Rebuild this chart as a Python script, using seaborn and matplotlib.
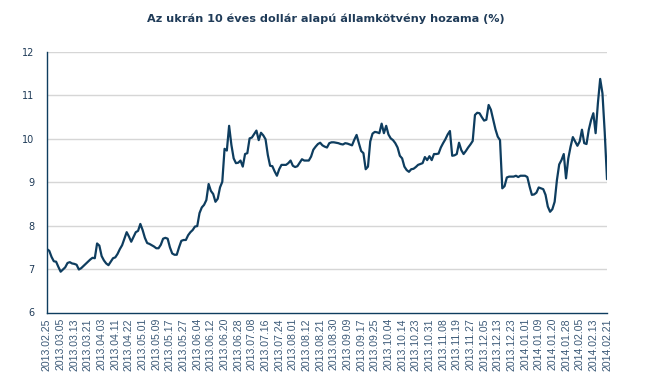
import matplotlib
matplotlib.use("Agg")
import matplotlib.pyplot as plt
import seaborn as sns
import pandas as pd
import numpy as np

title = "Az ukrán 10 éves dollár alapú államkötvény hozama (%)"

tick_labels = [
    "2013.02.25", "2013.03.05", "2013.03.13", "2013.03.21", "2013.04.03", "2013.04.11",
    "2013.04.22", "2013.05.01", "2013.05.09", "2013.05.17", "2013.05.27", "2013.06.04",
    "2013.06.12", "2013.06.20", "2013.06.28", "2013.07.08", "2013.07.16", "2013.07.24",
    "2013.08.01", "2013.08.12", "2013.08.21", "2013.08.30", "2013.09.09", "2013.09.17",
    "2013.09.25", "2013.10.04", "2013.10.14", "2013.10.23", "2013.10.31", "2013.11.08",
    "2013.11.19", "2013.11.27", "2013.12.05", "2013.12.13", "2013.12.23", "2014.01.01",
    "2014.01.09", "2014.01.20", "2014.01.28", "2014.02.05", "2014.02.13", "2014.02.21",
]

yields = [
    7.46, 7.42, 7.28, 7.18, 7.17, 7.05,
    6.94, 6.99, 7.04, 7.14, 7.16, 7.13,
    7.12, 7.10, 6.99, 7.02, 7.07, 7.12,
    7.17, 7.22, 7.26, 7.25, 7.59, 7.54,
    7.30, 7.20, 7.13, 7.09, 7.17, 7.25,
    7.27, 7.35, 7.46, 7.55, 7.70, 7.85,
    7.75, 7.63, 7.74, 7.85, 7.88, 8.04,
    7.90, 7.72, 7.60, 7.58, 7.55, 7.52,
    7.48, 7.48, 7.56, 7.70, 7.72, 7.70,
    7.50, 7.36, 7.33, 7.33, 7.50, 7.65,
    7.67, 7.67, 7.78, 7.85, 7.90, 7.98,
    7.99, 8.29, 8.42, 8.48, 8.59, 8.96,
    8.80, 8.73, 8.55, 8.62, 8.88, 9.01,
    9.77, 9.73, 10.30, 9.86, 9.55, 9.44,
    9.45, 9.50, 9.36, 9.65, 9.67, 10.01,
    10.03, 10.11, 10.19, 9.97, 10.14, 10.08,
    9.99, 9.63, 9.38, 9.37, 9.25, 9.15,
    9.30, 9.40, 9.40, 9.40, 9.44, 9.50,
    9.38, 9.35, 9.37, 9.45, 9.53, 9.50,
    9.50, 9.50, 9.59, 9.75, 9.82, 9.88,
    9.91, 9.85, 9.82, 9.80, 9.90, 9.92,
    9.92, 9.91, 9.90, 9.88, 9.87, 9.90,
    9.89, 9.87, 9.85, 9.98, 10.09, 9.90,
    9.72, 9.67, 9.30, 9.36, 9.94, 10.12,
    10.16, 10.15, 10.13, 10.35, 10.13, 10.30,
    10.10, 10.01, 9.97, 9.90, 9.80, 9.61,
    9.55, 9.36, 9.28, 9.24, 9.30, 9.31,
    9.35, 9.40, 9.42, 9.44, 9.58, 9.51,
    9.60, 9.51, 9.65, 9.65, 9.66, 9.80,
    9.90, 9.99, 10.10, 10.18, 9.61, 9.62,
    9.65, 9.91, 9.74, 9.65, 9.72, 9.80,
    9.87, 9.95, 10.55, 10.60, 10.59, 10.50,
    10.42, 10.44, 10.78, 10.67, 10.45, 10.22,
    10.05, 9.97, 8.86, 8.91, 9.11, 9.13,
    9.13, 9.13, 9.15, 9.12, 9.15, 9.15,
    9.15, 9.12, 8.90, 8.71, 8.72, 8.76,
    8.88, 8.86, 8.84, 8.71, 8.44, 8.32,
    8.38, 8.55, 9.05, 9.41, 9.51, 9.65,
    9.09, 9.55, 9.82, 10.04, 9.94, 9.84,
    9.94, 10.21, 9.90, 9.88, 10.21, 10.43,
    10.59, 10.13, 10.82, 11.38, 11.05, 10.15,
    9.07,
]

y_ticks = [6, 7, 8, 9, 10, 11, 12]

navy = "#0e3d5f"
text_col = "#1f3b58"

sns.set_theme(style="white")
plt.rcParams["font.family"] = ["DejaVu Sans"]

df = pd.DataFrame({"idx": np.arange(len(yields)), "value": yields})

fig = plt.figure(figsize=(6.45, 3.83), dpi=100)
ax = fig.add_axes([47 / 645, 1 - 312.5 / 383, (607 - 47) / 645, (312.5 - 52) / 383])

sns.lineplot(data=df, x="idx", y="value", ax=ax, color=navy, linewidth=1.6)

n = len(yields)
step = (n - 1) / (len(tick_labels) - 1)
ax.set_xlim(0, n - 1)
ax.set_ylim(6, 12)
ax.set_xticks([k * step for k in range(len(tick_labels))])
ax.set_xticklabels(tick_labels, rotation=90, fontsize=7.6, color="#3c5a78",
                   family="Liberation Sans")
ax.set_yticks(y_ticks)
ax.set_yticklabels([str(v) for v in y_ticks], fontsize=7, color=text_col)
ax.tick_params(axis="both", length=0, pad=4)
ax.tick_params(axis="y", pad=9)
ax.set_xlabel("")
ax.set_ylabel("")

for v in y_ticks[1:]:
    ax.axhline(v, color="#d6d6d6", linewidth=1.0, zorder=0)

for s in ["top", "right"]:
    ax.spines[s].set_visible(False)
for s in ["left", "bottom"]:
    ax.spines[s].set_color(navy)
    ax.spines[s].set_linewidth(1.0)

fig.text(326 / 645, 1 - 19 / 383, title, ha="center", va="center",
         fontsize=8.1, fontweight="bold", color=text_col)

fig.savefig("out.png", dpi=100)
